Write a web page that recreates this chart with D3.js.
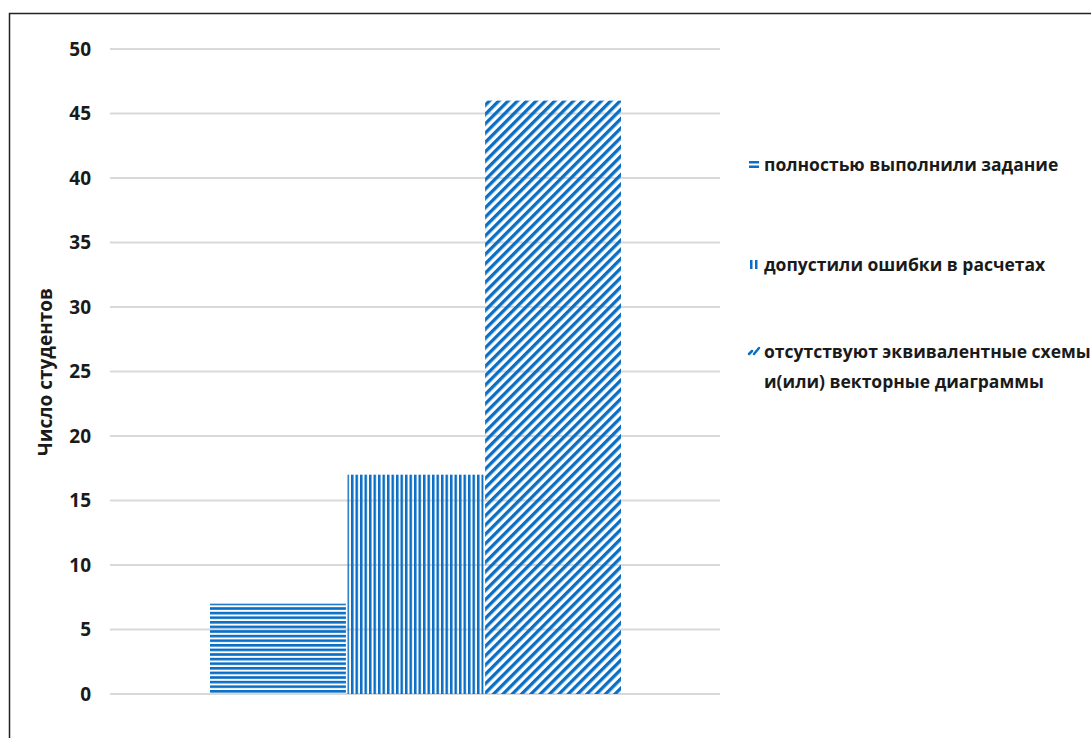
<!DOCTYPE html>
<html>
<head>
<meta charset="utf-8">
<script src="https://cdn.jsdelivr.net/npm/d3@7"></script>
<style>
  body { margin: 0; background: #fff; }
  text { font-family: "Open Sans", "Liberation Sans", sans-serif; font-weight: 700; fill: #1a1a1a; }
</style>
</head>
<body>
<div id="chart"></div>
<script>
// data
var categories = ["полностью выполнили задание", "допустили ошибки в расчетах", "отсутствуют эквивалентные схемы и(или) векторные диаграммы"];
var values = [7, 17, 46];
var patterns = ["horiz", "vert", "diag"];
var legendLines = [["полностью выполнили задание"], ["допустили ошибки в расчетах"], ["отсутствуют эквивалентные схемы", "и(или) векторные диаграммы"]];
var yTicks = [0, 5, 10, 15, 20, 25, 30, 35, 40, 45, 50];

var W = 1091, H = 738;
var blue = "#0a6ec4";

var svg = d3.select("#chart").append("svg")
    .attr("width", W)
    .attr("height", H);

// frame (left and top edges visible)
svg.append("rect")
    .attr("x", 9.5).attr("y", 13.5)
    .attr("width", W + 20).attr("height", H + 20)
    .attr("fill", "none")
    .attr("stroke", "#222")
    .attr("stroke-width", 1.5);

// patterns
var defs = svg.append("defs");
var ph = defs.append("pattern").attr("id", "horiz")
    .attr("patternUnits", "userSpaceOnUse").attr("width", 8).attr("height", 4.6);
ph.append("rect").attr("width", 8).attr("height", 2.6).attr("fill", blue);

var pv = defs.append("pattern").attr("id", "vert")
    .attr("patternUnits", "userSpaceOnUse").attr("width", 4.5).attr("height", 8);
pv.append("rect").attr("width", 2.5).attr("height", 8).attr("fill", blue);

var pd = defs.append("pattern").attr("id", "diag")
    .attr("patternUnits", "userSpaceOnUse").attr("width", 6.6).attr("height", 6.6)
    .attr("patternTransform", "rotate(45)");
pd.append("rect").attr("width", 3.3).attr("height", 6.6).attr("fill", blue);

// scales
var gridX0 = 110, gridX1 = 720;
var y = d3.scaleLinear().domain([0, 50]).range([694, 49]);
var x = d3.scaleBand().domain(categories).range([210, 621]).paddingInner(0.012);

// gridlines
svg.append("g").selectAll("line")
    .data(yTicks)
    .enter().append("line")
    .attr("x1", gridX0).attr("x2", gridX1)
    .attr("y1", function (d) { return y(d) })
    .attr("y2", function (d) { return y(d) })
    .attr("stroke", "#d9d9d9")
    .attr("stroke-width", 2);

// y axis labels
var yAxis = svg.append("g")
    .attr("transform", "translate(91,0)")
    .call(d3.axisLeft(y).tickValues(yTicks).tickSize(0).tickPadding(0));
yAxis.select(".domain").remove();
yAxis.selectAll("text")
    .style("font-size", "19px")
    .style("font-family", "'Open Sans', sans-serif")
    .style("font-weight", "700")
    .attr("fill", "#1a1a1a");

// axis title
svg.append("text")
    .attr("transform", "translate(52,372) rotate(-90)")
    .attr("text-anchor", "middle")
    .style("font-size", "19px")
    .text("Число студентов");

// bars
svg.append("g").selectAll("rect")
    .data(values)
    .enter().append("rect")
    .attr("x", function (d, i) { return x(categories[i]) })
    .attr("y", function (d) { return y(d) })
    .attr("width", x.bandwidth())
    .attr("height", function (d) { return y(0) - y(d) })
    .attr("fill", function (d, i) { return "url(#" + patterns[i] + ")" });

// legend
var legendY = [165, 265, 352];
var leg = svg.append("g").selectAll("g")
    .data(legendLines)
    .enter().append("g")
    .attr("transform", function (d, i) { return "translate(749," + legendY[i] + ")" });

// markers
leg.each(function (d, i) {
    var g = d3.select(this);
    if (i == 0) {
        g.append("rect").attr("x", 0).attr("y", -4).attr("width", 10).attr("height", 2.5).attr("fill", blue);
        g.append("rect").attr("x", 0).attr("y", 0.5).attr("width", 10).attr("height", 2.5).attr("fill", blue);
    } else if (i == 1) {
        g.append("rect").attr("x", 1).attr("y", -5).attr("width", 2.5).attr("height", 9).attr("fill", blue);
        g.append("rect").attr("x", 6).attr("y", -5).attr("width", 2.5).attr("height", 9).attr("fill", blue);
    } else {
        g.append("line").attr("x1", 0).attr("y1", 2).attr("x2", 3).attr("y2", -1)
            .attr("stroke", blue).attr("stroke-width", 2.5).attr("stroke-linecap", "round");
        g.append("line").attr("x1", 5).attr("y1", 2).attr("x2", 10).attr("y2", -4)
            .attr("stroke", blue).attr("stroke-width", 2.5).attr("stroke-linecap", "round");
    }
    g.selectAll("text")
        .data(d)
        .enter().append("text")
        .attr("x", 15)
        .attr("y", function (t, j) { return 6 + j * 30 })
        .style("font-size", "17.5px")
        .text(function (t) { return t });
});
</script>
</body>
</html>
